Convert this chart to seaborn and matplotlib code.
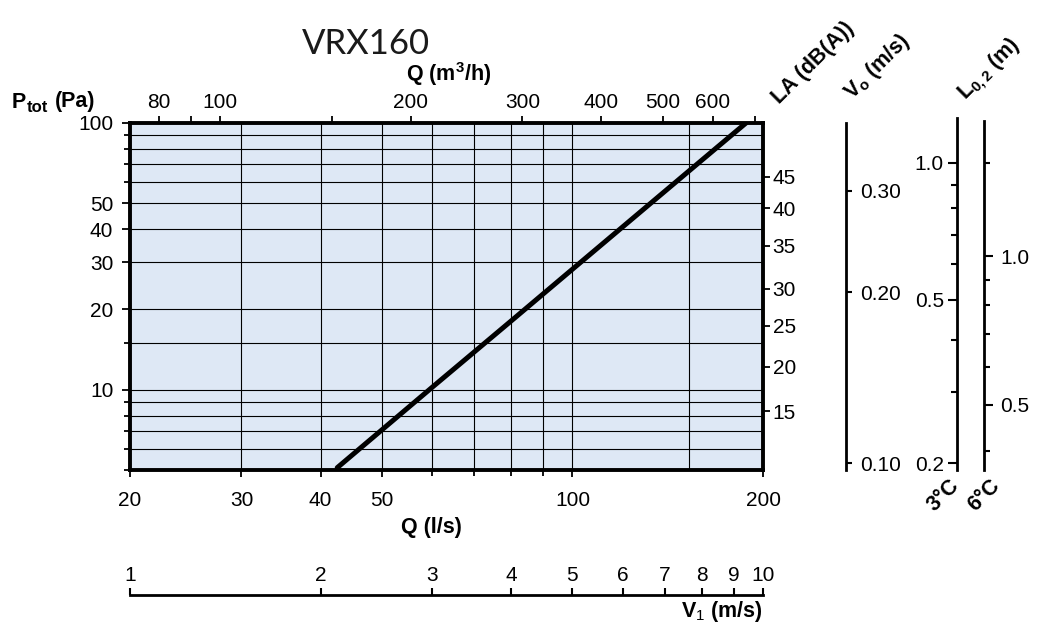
import matplotlib
matplotlib.use("Agg")
import matplotlib.pyplot as plt
import seaborn as sns
from matplotlib.ticker import FixedLocator, FixedFormatter, NullFormatter

# pressure drop curve VRX160, Q in l/s, Ptot in Pa
q_curve = [42.5, 60, 80, 100, 150, 188]
p_curve = [5.1, 10.2, 18.1, 28.3, 63.7, 100]

grid_q = [30, 40, 50, 60, 70, 80, 90, 100, 153]
grid_p = [6, 7, 8, 9, 10, 15, 20, 30, 40, 50, 60, 70, 80, 90]

q_ticks = [20, 30, 40, 50, 60, 70, 80, 90, 100, 200]
q_labels = ["20", "30", "40", "50", "", "", "", "", "100", "200"]
p_ticks = [5, 6, 7, 8, 9, 10, 15, 20, 30, 40, 50, 60, 70, 80, 90, 100]
p_labels = ["", "", "", "", "", "10", "", "20", "30", "40", "50", "", "", "", "", "100"]
m3h_ticks = [80, 90, 100, 150, 200, 300, 400, 500, 600, 700]
m3h_labels = ["80", "", "100", "", "200", "300", "400", "500", "600", ""]

# side scales: value and the pressure it lines up with
la_values = ["15", "20", "25", "30", "35", "40", "45"]
la_at_p = [8.3, 12.2, 17.4, 23.9, 34.6, 48.0, 62.8]
vo_values = ["0.10", "0.20", "0.30"]
vo_at_p = [5.3, 23.2, 55.6]
l3_values = ["0.2", "", "", "0.5", "", "", "", "", "1.0"]   # 0.2 .. 1.0 step 0.1
l3_at_p = [5.3, 9.8, 15.4, 21.7, 29.6, 38.0, 48.0, 58.6, 70.8]
l6_values = ["", "0.5", "", "", "", "", "1.0", ""]          # 0.4 .. 1.0, 1.5
l6_at_p = [5.9, 8.8, 12.2, 16.2, 20.8, 25.8, 31.7, 70.8]
v1_ticks = [1, 2, 3, 4, 5, 6, 7, 8, 9, 10]

sns.set_theme(style="ticks")
plt.rcParams["font.family"] = ["Liberation Sans", "DejaVu Sans"]
plt.rcParams["mathtext.fontset"] = "custom"
plt.rcParams["mathtext.rm"] = "Liberation Sans"
plt.rcParams["mathtext.bf"] = "Liberation Sans:bold"
plt.rcParams["mathtext.it"] = "Liberation Sans:italic"
for k in ["axes.edgecolor", "xtick.color", "ytick.color", "text.color", "axes.labelcolor"]:
    plt.rcParams[k] = "black"

W, H = 1047, 627
fig = plt.figure(figsize=(W / 100, H / 100), dpi=100)


def box(x0, y0, x1, y1):
    return [x0 / W, 1 - y1 / H, (x1 - x0) / W, (y1 - y0) / H]


def put_ticks(axis, ticks, labels):
    axis.set_major_locator(FixedLocator([t for t, l in zip(ticks, labels) if l]))
    axis.set_major_formatter(FixedFormatter([l for l in labels if l]))
    axis.set_minor_locator(FixedLocator([t for t, l in zip(ticks, labels) if not l]))
    axis.set_minor_formatter(NullFormatter())


FS = 15      # tick labels
LS = 15.5    # bold axis titles

ax = fig.add_axes(box(130, 123, 763, 470))
ax.set_facecolor("#dee8f5")
ax.set_xscale("log")
ax.set_yscale("log")
for q in grid_q:
    ax.axvline(q, color="black", lw=0.8, zorder=1)
for p in grid_p:
    ax.axhline(p, color="black", lw=0.8, zorder=1)
sns.lineplot(x=q_curve, y=p_curve, ax=ax, color="black", lw=3.6, zorder=3)
ax.set_xlim(20, 200)
ax.set_ylim(5, 100)
for s in ax.spines.values():
    s.set_linewidth(2.8)
    s.set_zorder(4)
put_ticks(ax.xaxis, q_ticks, q_labels)
put_ticks(ax.yaxis, p_ticks, p_labels)
ax.tick_params(axis="x", which="both", direction="out", width=1.3, labelsize=FS, pad=10)
ax.tick_params(axis="x", which="major", length=5)
ax.tick_params(axis="x", which="minor", length=4)
ax.tick_params(axis="y", which="both", direction="out", width=1.3, labelsize=FS, pad=6)
ax.tick_params(axis="y", which="major", length=6)
ax.tick_params(axis="y", which="minor", length=4)
ax.set_xlabel("")
ax.set_ylabel("")

top = ax.twiny()
top.set_xscale("log")
top.set_xlim(20 * 3.6, 200 * 3.6)
put_ticks(top.xaxis, m3h_ticks, m3h_labels)
top.tick_params(axis="x", which="both", direction="out", width=1.3, length=5, labelsize=FS, pad=3)
for s in top.spines.values():
    s.set_visible(False)

la = ax.twinx()
la.set_yscale("log")
la.set_ylim(5, 100)
la.yaxis.set_major_locator(FixedLocator(la_at_p))
la.yaxis.set_major_formatter(FixedFormatter(la_values))
la.yaxis.set_minor_locator(FixedLocator([]))
la.tick_params(axis="y", direction="out", width=1.3, length=5, labelsize=FS, pad=2)
for s in la.spines.values():
    s.set_visible(False)


def side_axis(x, ytop, side):
    if side == "right":
        a = fig.add_axes(box(x - 4, ytop, x, 470))
    else:
        a = fig.add_axes(box(x, ytop, x + 4, 470))
    a.set_yscale("log")
    a.set_ylim(5, 10 ** (2 + (123 - ytop) / 266.7))
    a.patch.set_visible(False)
    for s in a.spines.values():
        s.set_visible(False)
    a.spines[side].set_visible(True)
    a.spines[side].set_linewidth(2.0)
    a.set_xticks([])
    a.yaxis.set_ticks_position(side)
    return a


vo = side_axis(846, 123, "right")
vo.yaxis.set_major_locator(FixedLocator(vo_at_p))
vo.yaxis.set_major_formatter(FixedFormatter(vo_values))
vo.yaxis.set_minor_locator(FixedLocator([]))
vo.tick_params(axis="y", direction="out", width=1.5, length=4.5, labelsize=FS, pad=6)

l3 = side_axis(957, 118, "left")
put_ticks(l3.yaxis, l3_at_p, l3_values)
l3.tick_params(axis="y", which="both", direction="out", width=1.5, labelsize=FS, pad=3)
l3.tick_params(axis="y", which="major", length=6.5)
l3.tick_params(axis="y", which="minor", length=4.5)

l6 = side_axis(984, 121, "right")
put_ticks(l6.yaxis, l6_at_p, l6_values)
l6.tick_params(axis="y", which="both", direction="out", width=1.5, labelsize=FS, pad=5)
l6.tick_params(axis="y", which="major", length=6.5)
l6.tick_params(axis="y", which="minor", length=4)

v1 = fig.add_axes(box(130, 595, 763, 600))
v1.set_xscale("log")
v1.set_xlim(1, 10)
v1.patch.set_visible(False)
for s in v1.spines.values():
    s.set_visible(False)
v1.spines["top"].set_visible(True)
v1.spines["top"].set_linewidth(2.0)
v1.set_yticks([])
v1.xaxis.set_ticks_position("top")
v1.xaxis.set_major_locator(FixedLocator(v1_ticks))
v1.xaxis.set_major_formatter(FixedFormatter([str(v) for v in v1_ticks]))
v1.xaxis.set_minor_locator(FixedLocator([]))
v1.tick_params(axis="x", direction="out", width=1.5, length=5, labelsize=FS, pad=2)


def ftext(x, y, s, **kw):
    fig.text(x / W, 1 - y / H, s, **kw)


rot = dict(rotation=45, rotation_mode="anchor", ha="left", va="baseline",
           fontsize=LS, weight="bold")

ftext(366, 44, "VRX160", family="Lato", fontsize=25, color="#1a1a1a", ha="center", va="center")
ftext(449, 74, r"Q (m$^\mathbf{3}$/h)", fontsize=LS, weight="bold", ha="center", va="center")
ftext(12, 102, "P", fontsize=LS, weight="bold", ha="left", va="center")
ftext(27, 107, "tot", fontsize=12, weight="bold", ha="left", va="center")
ftext(55, 102, "(Pa)", fontsize=LS, weight="bold", ha="left", va="center")
ftext(431, 527, "Q (l/s)", fontsize=LS, weight="bold", ha="center", va="center")
ftext(763, 612, r"V$_1$ (m/s)", fontsize=LS, weight="bold", ha="right", va="center")
ftext(779, 104, "LA (dB(A))", **rot)
ftext(852, 100, r"V$_\mathbf{o}$ (m/s)", **rot)
ftext(965, 100, r"L$_\mathbf{0,2}$ (m)", **rot)
ftext(935, 512, "3°C", **rot)
ftext(975, 512, "6°C", **rot)

fig.savefig("out.png", dpi=100)
